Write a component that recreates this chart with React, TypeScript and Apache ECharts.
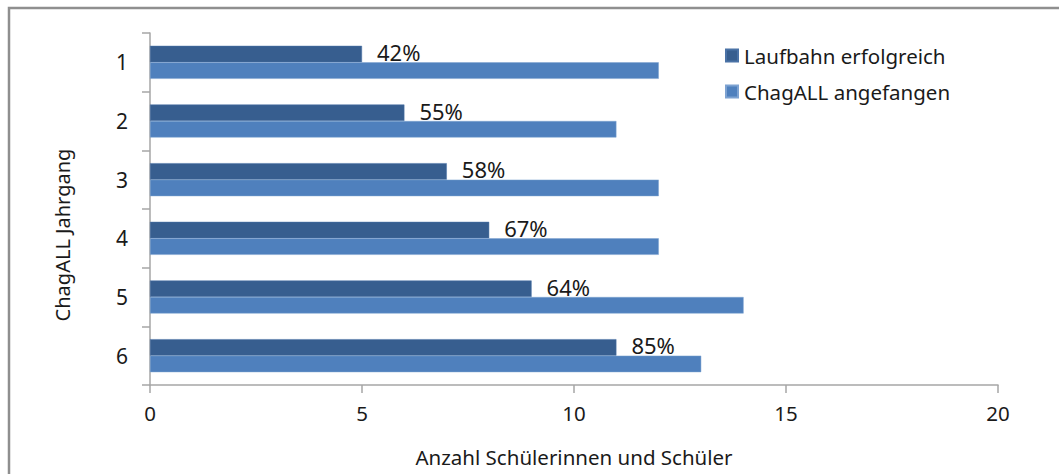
import React, { useEffect, useRef } from "react";
import * as echarts from "echarts";

const categories = ["1", "2", "3", "4", "5", "6"];
const erfolgreich = [5, 6, 7, 8, 9, 11];
const angefangen = [12, 11, 12, 12, 14, 13];
const percentLabels = ["42%", "55%", "58%", "67%", "64%", "85%"];
const xTicks = [0, 5, 10, 15, 20];
const yAxisTitle = "ChagALL Jahrgang";

const FONT = "'Noto Sans', sans-serif";

export default function App() {
  const ref = useRef<HTMLDivElement>(null);
  useEffect(() => {
    if (!ref.current) return;
    const chart = echarts.init(ref.current, undefined, { renderer: "svg" });
    chart.setOption({
      animation: false,
      backgroundColor: "#ffffff",
      textStyle: { fontFamily: FONT },
      graphic: [
        {
          type: "rect",
          shape: { x: 9, y: 8, width: 1200, height: 600 },
          style: { fill: "none", stroke: "#8f8f8f", lineWidth: 2.5 },
          silent: true,
        },
        {
          type: "text",
          x: 62,
          y: 235,
          rotation: Math.PI / 2,
          style: {
            text: yAxisTitle,
            fontFamily: FONT,
            fontSize: 20,
            fill: "#1a1a1a",
            align: "center",
            verticalAlign: "middle",
          },
          silent: true,
        },
      ],
      legend: {
        orient: "vertical",
        left: 720,
        top: 40,
        itemWidth: 12,
        itemHeight: 12,
        itemGap: 15,
        icon: "rect",
        textStyle: { fontFamily: FONT, fontSize: 20.5, color: "#1a1a1a", padding: [0, 0, 0, 1] },
        data: ["Laufbahn erfolgreich", "ChagALL angefangen"],
      },
      grid: { left: 150, right: 61, top: 33, bottom: 89, containLabel: false },
      xAxis: {
        type: "value",
        min: xTicks[0],
        max: xTicks[xTicks.length - 1],
        interval: 5,
        name: "Anzahl Schülerinnen und Schüler",
        nameLocation: "middle",
        nameGap: 61,
        nameTextStyle: { fontFamily: FONT, fontSize: 20.5, color: "#1a1a1a" },
        axisLine: { show: true, lineStyle: { color: "#a6a6a6", width: 1.5 } },
        axisTick: { show: true, length: 8, lineStyle: { color: "#a6a6a6", width: 1.5 } },
        axisLabel: { fontFamily: FONT, fontSize: 20.5, color: "#1a1a1a", margin: 17 },
        splitLine: { show: false },
      },
      yAxis: {
        type: "category",
        inverse: true,
        data: categories,
        axisLine: { show: true, lineStyle: { color: "#a6a6a6", width: 1.5 } },
        axisTick: { show: true, length: 8, alignWithLabel: false, lineStyle: { color: "#a6a6a6", width: 1.5 } },
        axisLabel: { fontFamily: FONT, fontSize: 21, color: "#1a1a1a", margin: 22 },
      },
      series: [
        {
          name: "Laufbahn erfolgreich",
          type: "bar",
          data: erfolgreich,
          barWidth: 16.5,
          barGap: "0%",
          itemStyle: { color: "#375e8f", borderColor: "#4a72a6", borderWidth: 0.5 },
          label: {
            show: true,
            position: "right",
            distance: 15,
            formatter: (p: any) => percentLabels[p.dataIndex],
            fontFamily: FONT,
            fontSize: 22,
            color: "#1a1a1a",
            offset: [0, -2],
          },
        },
        {
          name: "ChagALL angefangen",
          type: "bar",
          data: angefangen,
          barWidth: 16.5,
          barGap: "0%",
          itemStyle: { color: "#4f80bd", borderColor: "#7da2d1", borderWidth: 0.5 },
        },
      ],
    });
    return () => chart.dispose();
  }, []);
  return (
    <div
      ref={ref}
      style={{ position: "fixed", left: 0, top: 0, width: 1059, height: 474 }}
    />
  );
}
